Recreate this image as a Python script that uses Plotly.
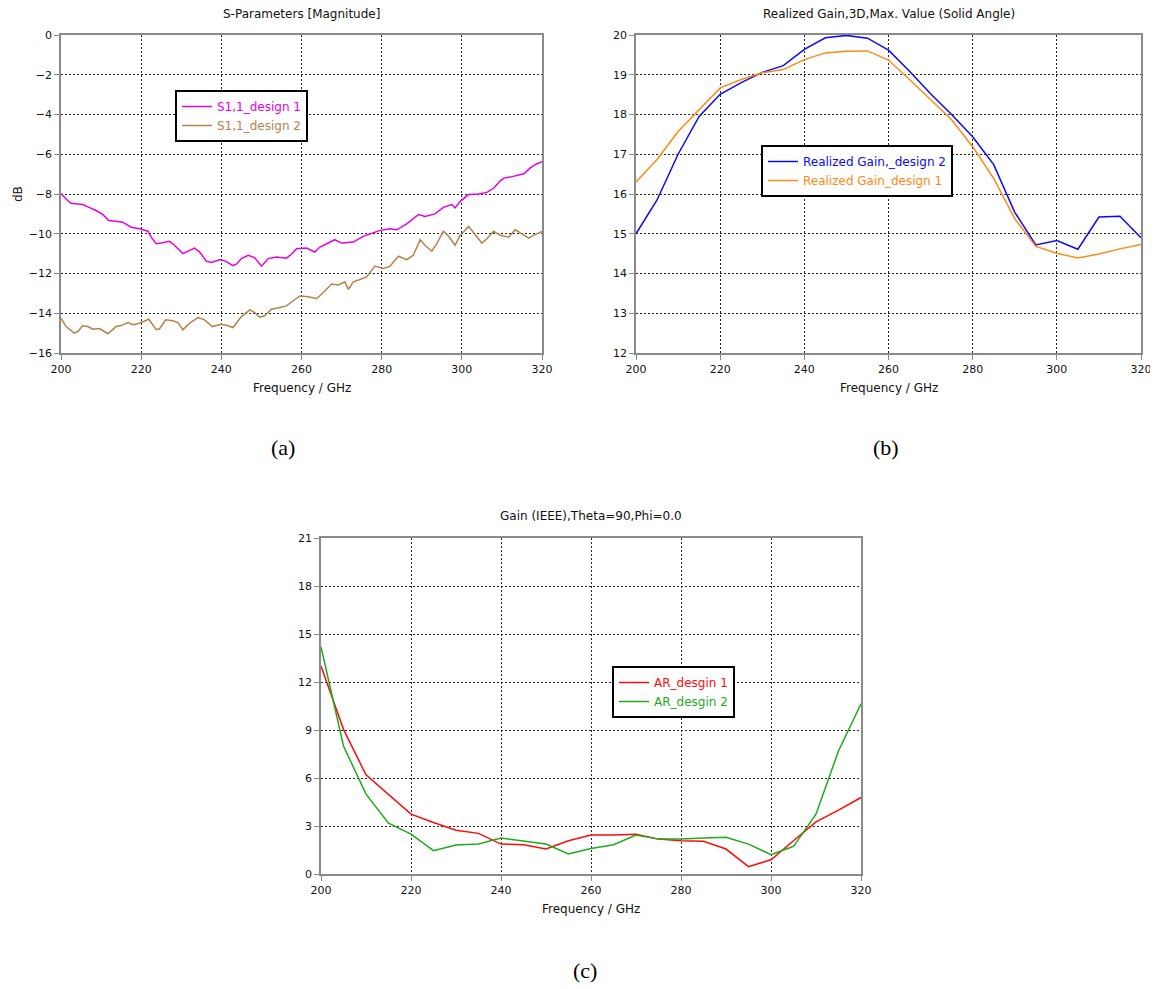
import plotly.graph_objects as go

# ---------------- data ----------------
# (a) S-parameters
freq_s1 = [200, 201.25, 202.5, 203.75, 205.4, 207, 208.75, 210.4, 211.9, 213.75, 215.4, 217.5,
           219.6, 221.7, 222.5, 223.75, 225, 227.1, 228.3, 230.4, 231.7, 233.3, 234.6, 236.25,
           237.5, 239.8, 241.25, 242.9, 243.75, 245, 246.7, 248.3, 250, 251.7, 253.75, 256.25,
           257.5, 258.75, 261.25, 263.3, 264.6, 266.25, 268.3, 270, 272.9, 275.4, 277.9, 279.6,
           282.1, 283.75, 286.25, 289.2, 290.8, 293.3, 295.4, 297.5, 298.3, 299.6, 301.7, 304.2,
           306.25, 308, 309.5, 310.5, 312, 314, 315.5, 317, 318.5, 320]
s11_design1 = [-7.97, -8.25, -8.47, -8.5, -8.53, -8.67, -8.83, -9.03, -9.33, -9.37, -9.42, -9.67,
               -9.75, -9.87, -10.17, -10.5, -10.47, -10.38, -10.58, -11.0, -10.88, -10.72, -10.92, -11.38,
               -11.45, -11.3, -11.4, -11.6, -11.53, -11.25, -11.08, -11.2, -11.63, -11.25, -11.17, -11.23,
               -11.03, -10.75, -10.72, -10.92, -10.67, -10.5, -10.3, -10.47, -10.42, -10.13, -9.97, -9.83,
               -9.75, -9.8, -9.5, -9.03, -9.13, -9.0, -8.67, -8.53, -8.7, -8.37, -8.03, -8.0,
               -7.92, -7.7, -7.35, -7.2, -7.15, -7.05, -6.98, -6.7, -6.5, -6.38]

freq_s2 = [200, 201.25, 203.3, 204.2, 205.4, 206.7, 207.9, 209.6, 211.7, 213.75, 215, 216.7,
           217.9, 219.6, 221.9, 223.75, 224.6, 226.1, 227.9, 229.2, 230.4, 232.1, 234.2, 235.8,
           237.75, 240, 241.7, 242.9, 245, 247.1, 248.3, 249.6, 250.8, 252.5, 253.75, 256.25,
           257.9, 259.6, 261.7, 263.75, 265.4, 267.5, 269.2, 270.8, 271.7, 272.9, 274.6, 276.25,
           278.3, 280.4, 282.1, 284.2, 286.25, 287.9, 289.6, 290.8, 292.5, 293.75, 295.4, 296.7,
           298.3, 299.6, 301.7, 302.9, 305, 306.25, 307.9, 309.6, 311.7, 313.3, 315, 316.7,
           317.9, 320]
s11_design2 = [-14.25, -14.67, -15.0, -14.92, -14.63, -14.67, -14.8, -14.77, -15.03, -14.67, -14.62, -14.47,
               -14.58, -14.5, -14.3, -14.83, -14.78, -14.33, -14.38, -14.47, -14.83, -14.5, -14.22, -14.33,
               -14.67, -14.55, -14.63, -14.72, -14.17, -13.83, -13.97, -14.2, -14.13, -13.8, -13.75, -13.63,
               -13.37, -13.13, -13.17, -13.27, -12.97, -12.53, -12.58, -12.42, -12.8, -12.42, -12.3, -12.17,
               -11.63, -11.75, -11.63, -11.13, -11.3, -11.08, -10.3, -10.58, -10.88, -10.5, -9.87, -10.13,
               -10.58, -10.08, -9.63, -9.92, -10.47, -10.25, -9.87, -10.08, -10.17, -9.8, -10.0, -10.22,
               -10.08, -9.88]

# (b) Realized gain
freq_gain = [200, 205, 210, 215, 220, 225, 230, 235, 240, 245, 250, 255, 260,
             265, 270, 275, 280, 285, 290, 295, 300, 305, 310, 315, 320]
gain_design2 = [15.0, 15.85, 17.0, 17.95, 18.51, 18.8, 19.06, 19.23, 19.64, 19.93, 19.99, 19.92, 19.62,
                19.09, 18.52, 18.0, 17.44, 16.74, 15.54, 14.72, 14.83, 14.61, 15.42, 15.44, 14.9]
gain_design1 = [16.3, 16.87, 17.57, 18.13, 18.67, 18.88, 19.05, 19.13, 19.38, 19.55, 19.59, 19.6, 19.37,
                18.88, 18.37, 17.87, 17.19, 16.39, 15.38, 14.68, 14.51, 14.39, 14.49, 14.62, 14.73]

# (c) Axial ratio
freq_ar = [200, 205, 210, 215, 220, 225, 230, 235, 240, 245, 250, 255, 260,
           265, 270, 275, 280, 285, 290, 295, 300, 305, 310, 315, 320]
ar_design1 = [13.0, 9.04, 6.2, 5.0, 3.74, 3.22, 2.74, 2.54, 1.87, 1.83, 1.56, 2.08, 2.43,
              2.43, 2.49, 2.18, 2.08, 2.04, 1.56, 0.46, 0.89, 2.08, 3.26, 3.99, 4.78]
ar_design2 = [14.2, 8.0, 4.99, 3.18, 2.49, 1.46, 1.81, 1.87, 2.25, 2.08, 1.87, 1.25, 1.6,
              1.83, 2.43, 2.18, 2.18, 2.25, 2.29, 1.87, 1.21, 1.73, 3.74, 7.69, 10.64]

x_ticks = [200, 220, 240, 260, 280, 300, 320]

# ---------------- styling ----------------
OFF = 8                      # default page margin of the html body
W, H = 1158 - OFF, 989 - OFF
C_MAG, C_BRN = "#E600E6", "#B5824C"
C_BLUE, C_ORG = "#0A0AF5", "#FF8A14"
C_RED, C_GRN = "#FF0A0A", "#1EAA1E"
UI_FONT = "DejaVu Sans"


def px_x(p):
    return (p - OFF) / W


def px_y(p):
    return 1 - (p - OFF) / H


def lab(text, color):
    return f"<span style='color:{color}'>{text}</span>"


fig = go.Figure()

fig.add_trace(go.Scatter(x=freq_s1, y=s11_design1, mode="lines", line=dict(color=C_MAG, width=1.5),
                         name=lab("S1,1_design 1", C_MAG), xaxis="x", yaxis="y", legend="legend"))
fig.add_trace(go.Scatter(x=freq_s2, y=s11_design2, mode="lines", line=dict(color=C_BRN, width=1.5),
                         name=lab("S1,1_design 2", C_BRN), xaxis="x", yaxis="y", legend="legend"))

fig.add_trace(go.Scatter(x=freq_gain, y=gain_design2, mode="lines", line=dict(color=C_BLUE, width=1.5),
                         name=lab("Realized Gain,_design 2", C_BLUE), xaxis="x2", yaxis="y2", legend="legend2"))
fig.add_trace(go.Scatter(x=freq_gain, y=gain_design1, mode="lines", line=dict(color=C_ORG, width=1.5),
                         name=lab("Realized Gain_design 1", C_ORG), xaxis="x2", yaxis="y2", legend="legend2"))

fig.add_trace(go.Scatter(x=freq_ar, y=ar_design1, mode="lines", line=dict(color=C_RED, width=1.5),
                         name=lab("AR_desgin 1", C_RED), xaxis="x3", yaxis="y3", legend="legend3"))
fig.add_trace(go.Scatter(x=freq_ar, y=ar_design2, mode="lines", line=dict(color=C_GRN, width=1.5),
                         name=lab("AR_desgin 2", C_GRN), xaxis="x3", yaxis="y3", legend="legend3"))

axis_common = dict(showgrid=True, gridcolor="#262626", griddash="2px,2px", gridwidth=1,
                   showline=True, linecolor="#8a8a8a", linewidth=1.5, mirror=True,
                   ticks="outside", ticklen=5, tickcolor="#8a8a8a", tickwidth=1,
                   zeroline=False, tickfont=dict(family=UI_FONT, size=11, color="#111111"),
                   fixedrange=True, automargin=False)

# panel geometry (page pixels)
A = dict(l=61, r=542, t=35, b=353)
B = dict(l=636, r=1141, t=35, b=353)
Cp = dict(l=321, r=861, t=538, b=874)

fig.update_layout(
    template="none",
    width=W, height=H, autosize=False, margin=dict(l=0, r=0, t=0, b=0, pad=0, autoexpand=False),
    paper_bgcolor="white", plot_bgcolor="white",
    xaxis=dict(axis_common, domain=[px_x(A["l"]), px_x(A["r"])], range=[200, 320],
               tickvals=x_ticks, anchor="y"),
    yaxis=dict(axis_common, domain=[px_y(A["b"]), px_y(A["t"])], range=[-16, 0], dtick=2, anchor="x"),
    xaxis2=dict(axis_common, domain=[px_x(B["l"]), px_x(B["r"])], range=[200, 320],
                tickvals=x_ticks, anchor="y2"),
    yaxis2=dict(axis_common, domain=[px_y(B["b"]), px_y(B["t"])], range=[12, 20], dtick=1, anchor="x2"),
    xaxis3=dict(axis_common, domain=[px_x(Cp["l"]), px_x(Cp["r"])], range=[200, 320],
                tickvals=x_ticks, anchor="y3"),
    yaxis3=dict(axis_common, domain=[px_y(Cp["b"]), px_y(Cp["t"])], range=[0, 21], dtick=3, anchor="x3"),
    showlegend=True,
)

legend_common = dict(bgcolor="white", bordercolor="black", borderwidth=2,
                     font=dict(family=UI_FONT, size=12), xanchor="left", yanchor="top",
                     tracegroupgap=0, itemwidth=30, itemclick=False, itemdoubleclick=False)
fig.update_layout(
    legend=dict(legend_common, x=px_x(175), y=px_y(90)),
    legend2=dict(legend_common, x=px_x(761), y=px_y(145)),
    legend3=dict(legend_common, x=px_x(612), y=px_y(666)),
)

annotations = []
title_font = dict(family=UI_FONT, size=12, color="#111111")
for box, title, ty in [(A, "S-Parameters [Magnitude]", 14),
                       (B, "Realized Gain,3D,Max. Value (Solid Angle)", 14),
                       (Cp, "Gain (IEEE),Theta=90,Phi=0.0", 516)]:
    cx = (box["l"] + box["r"]) / 2
    annotations.append(dict(text=title, x=px_x(cx), y=px_y(ty), xref="paper", yref="paper",
                            showarrow=False, xanchor="center", yanchor="middle", font=title_font))
    annotations.append(dict(text="Frequency / GHz", x=px_x(cx), y=px_y(box["b"] + 35),
                            xref="paper", yref="paper", showarrow=False,
                            xanchor="center", yanchor="middle",
                            font=dict(family=UI_FONT, size=12, color="#111111")))

annotations.append(dict(text="dB", x=px_x(18), y=px_y(194), xref="paper", yref="paper",
                        showarrow=False, textangle=-90, xanchor="center", yanchor="middle",
                        font=dict(family=UI_FONT, size=12, color="#111111")))

serif = dict(family="Liberation Serif", size=22, color="black")
for t, x, y in [("(a)", 283, 447), ("(b)", 886, 447), ("(c)", 585, 970)]:
    annotations.append(dict(text=t, x=px_x(x), y=px_y(y), xref="paper", yref="paper",
                            showarrow=False, xanchor="center", yanchor="middle", font=serif))

fig.update_layout(annotations=annotations)

fig.write_html("out.html", config={"responsive": False})
